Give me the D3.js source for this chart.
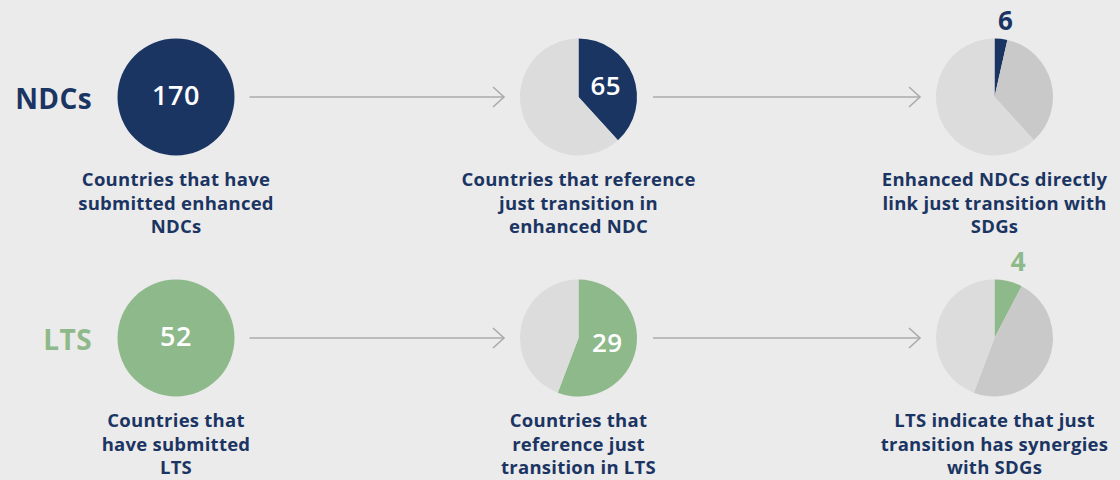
<!DOCTYPE html>
<html>
<head>
<meta charset="utf-8">
<script src="https://cdn.jsdelivr.net/npm/d3@7"></script>
<style>
  html, body { margin: 0; padding: 0; background: #ebebeb; }
  svg { display: block; }
  text { font-family: "Open Sans", Lato, sans-serif; }
</style>
</head>
<body>
<svg id="chart" width="1120" height="480"></svg>
<script>
// ---- data ----
const rowNames = ["NDCs", "LTS"];
const rowColors = ["#1b3563", "#8eb98a"];
const ndcValues = [170, 65, 6];
const ltsValues = [52, 29, 4];
const ndcCaptions = [
  ["Countries that have", "submitted enhanced", "NDCs"],
  ["Countries that reference", "just transition in", "enhanced NDC"],
  ["Enhanced NDCs directly", "link just transition with", "SDGs"]
];
const ltsCaptions = [
  ["Countries that", "have submitted", "LTS"],
  ["Countries that", "reference just", "transition in LTS"],
  ["LTS indicate that just", "transition has synergies", "with SDGs"]
];
const stageNames = ["submitted", "justTransition", "sdgLink"];

// ---- layout ----
const W = 1120, H = 480;
const svg = d3.select("#chart");
svg.append("rect").attr("width", W).attr("height", H).attr("fill", "#ebebeb");

const stageX = { submitted: 176, justTransition: 578.5, sdgLink: 994.5 };
const yRow = d3.scalePoint().domain(rowNames).range([97, 338]);
const R = 58.5;
const navy = "#1b3563";
const lightGray = "#dcdcdc";
const midGray = "#c9c9c9";

const pie = d3.pie().sort(null).value(d => d.v);
const arc = d3.arc().innerRadius(0).outerRadius(R);

const rows = [
  { name: "NDCs", vals: ndcValues, caps: ndcCaptions, color: rowColors[0] },
  { name: "LTS", vals: ltsValues, caps: ltsCaptions, color: rowColors[1] }
];

rows.forEach(row => {
  const cy = yRow(row.name);
  const total = row.vals[0];

  // row label
  svg.append("text")
    .attr("x", 92).attr("y", cy + 12)
    .attr("text-anchor", "end")
    .attr("font-size", 28).attr("font-weight", 700)
    .attr("letter-spacing", 0.4)
    .attr("fill", row.color)
    .text(row.name);

  // arrows
  const arrowSegs = [
    [stageX.submitted + R + 15, stageX.justTransition - R - 16],
    [stageX.justTransition + R + 16, stageX.sdgLink - R - 16]
  ];
  arrowSegs.forEach(([x0, x1]) => {
    svg.append("line")
      .attr("x1", x0).attr("x2", x1).attr("y1", cy).attr("y2", cy)
      .attr("stroke", "#ababab").attr("stroke-width", 1.6);
    svg.append("path")
      .attr("d", `M${x1 - 11},${cy - 10} L${x1},${cy} L${x1 - 11},${cy + 10}`)
      .attr("fill", "none").attr("stroke", "#ababab").attr("stroke-width", 1.6);
  });

  // stage 1: full circle
  const g1 = svg.append("g").attr("transform", `translate(${stageX.submitted},${cy})`);
  g1.selectAll("path").data(pie([{ v: total, c: row.color }]))
    .join("path").attr("d", arc).attr("fill", d => d.data.c);
  g1.append("text")
    .attr("y", 8).attr("text-anchor", "middle")
    .attr("font-size", 27).attr("font-weight", 600).attr("fill", "#fff")
    .attr("letter-spacing", 0.5)
    .text(total);

  // stage 2: pie highlight vs rest
  const g2 = svg.append("g").attr("transform", `translate(${stageX.justTransition},${cy})`);
  const p2 = pie([{ v: row.vals[1], c: row.color }, { v: total - row.vals[1], c: lightGray }]);
  g2.selectAll("path").data(p2).join("path").attr("d", arc).attr("fill", d => d.data.c);
  const c2 = arc.centroid(p2[0]);
  g2.append("text")
    .attr("x", c2[0]).attr("y", c2[1] + 9).attr("text-anchor", "middle")
    .attr("font-size", 26).attr("font-weight", 600).attr("fill", "#fff")
    .attr("letter-spacing", 0.5)
    .text(row.vals[1]);

  // stage 3: pie highlight, context, rest
  const g3 = svg.append("g").attr("transform", `translate(${stageX.sdgLink},${cy})`);
  const p3 = pie([
    { v: row.vals[2], c: row.color },
    { v: row.vals[1] - row.vals[2], c: midGray },
    { v: total - row.vals[1], c: lightGray }
  ]);
  g3.selectAll("path").data(p3).join("path").attr("d", arc).attr("fill", d => d.data.c);
  const mid = (p3[0].startAngle + p3[0].endAngle) / 2;
  g3.append("text")
    .attr("x", (R + 40) * Math.sin(mid)).attr("y", -R - 9)
    .attr("text-anchor", "middle")
    .attr("font-size", 26).attr("font-weight", 700).attr("fill", row.color)
    .text(row.vals[2]);

  // captions
  stageNames.forEach((s, i) => {
    const t = svg.append("text")
      .attr("x", stageX[s]).attr("y", cy + 89)
      .attr("text-anchor", "middle")
      .attr("font-size", 18.5).attr("font-weight", 700).attr("fill", navy)
      .attr("letter-spacing", 0.25);
    row.caps[i].forEach((line, j) => {
      t.append("tspan").attr("x", stageX[s]).attr("dy", j === 0 ? 0 : 23.5).text(line);
    });
  });
});
</script>
</body>
</html>
